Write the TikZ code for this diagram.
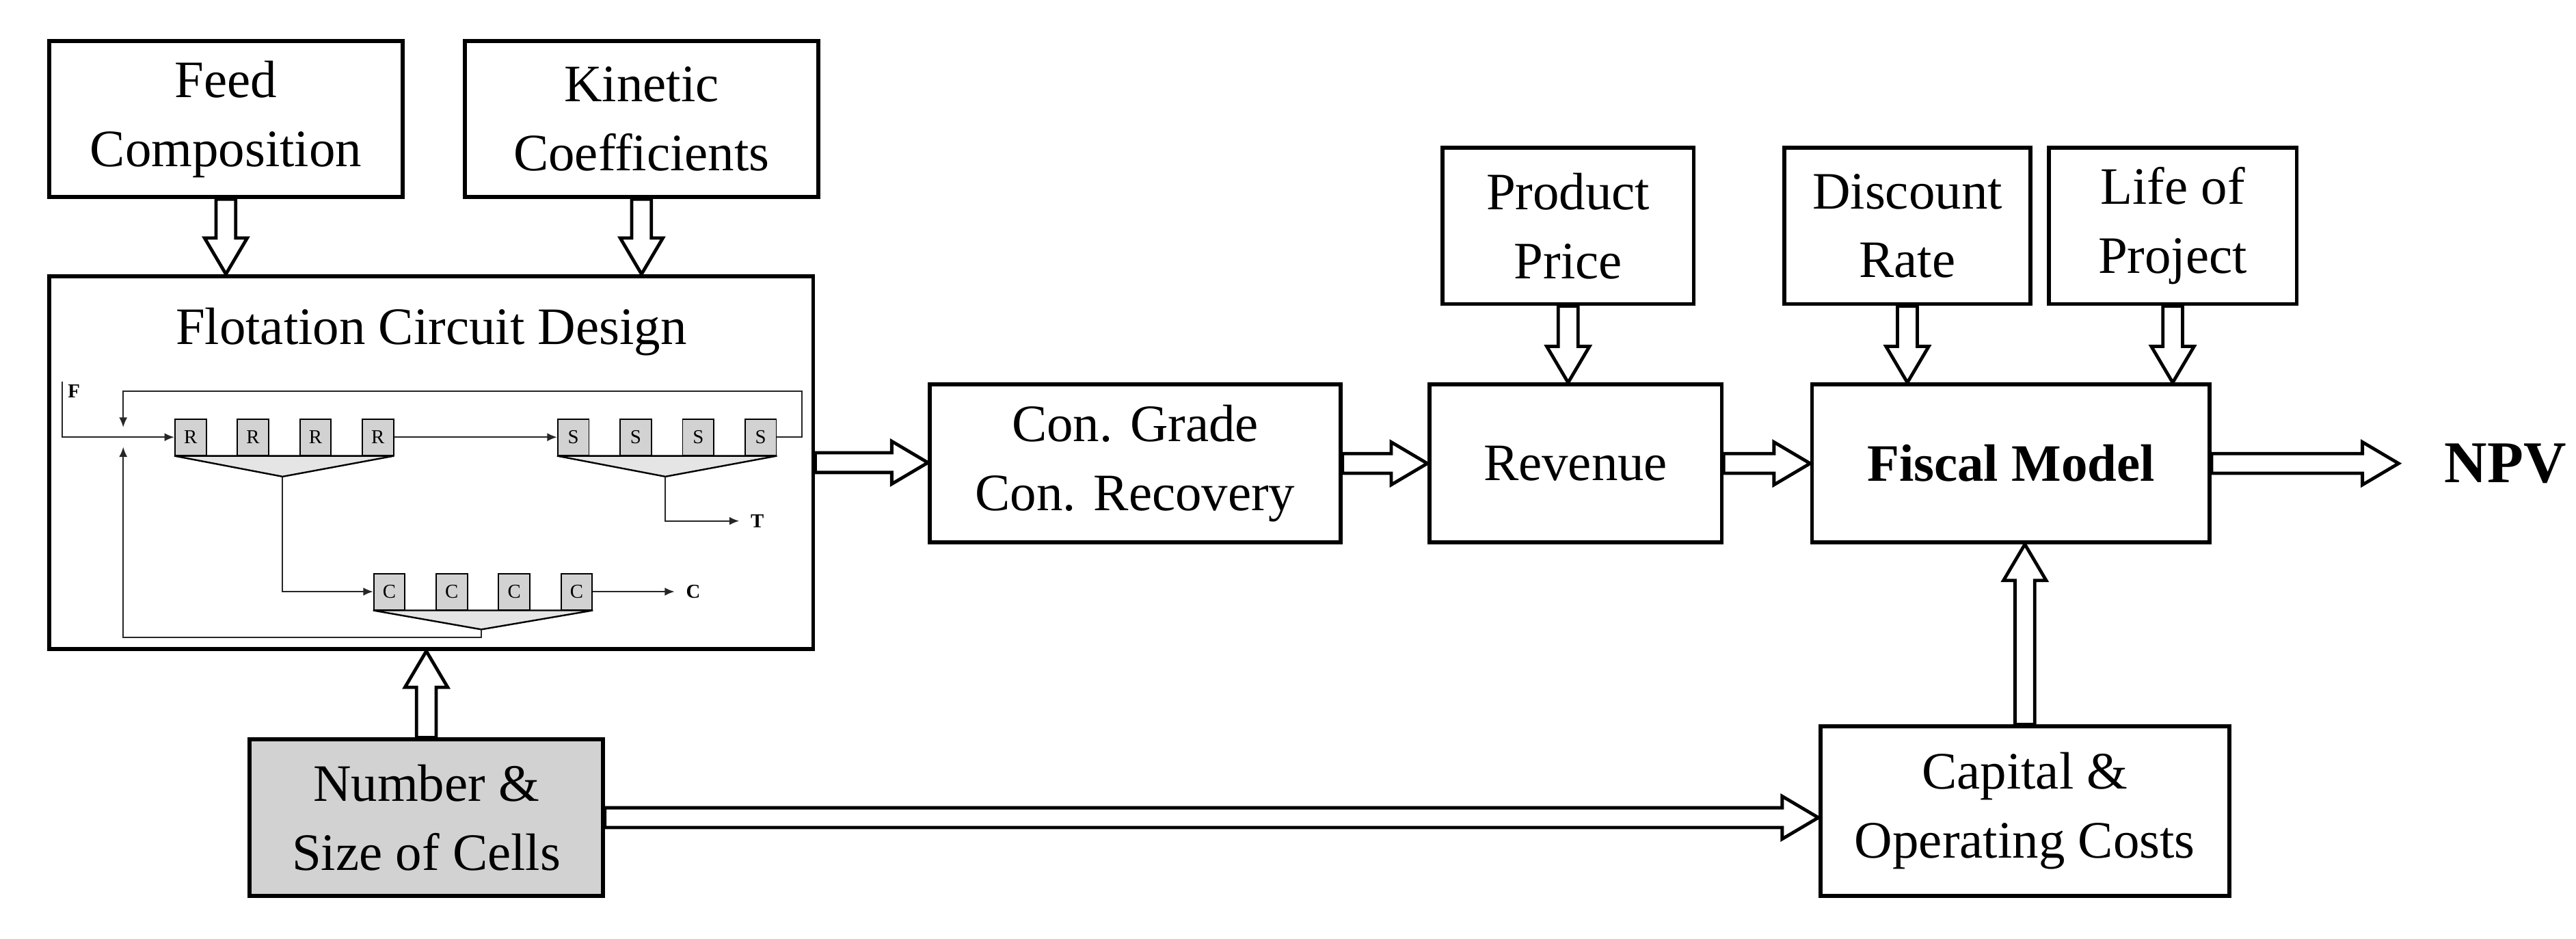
\documentclass[tikz,border=0pt]{standalone}
\usepackage{fontspec}
\setmainfont{Liberation Serif}
\usetikzlibrary{arrows.meta}
\usetikzlibrary{positioning}
\usetikzlibrary{calc}

% hollow block arrows between two points
\newcommand{\harrow}[2]{\draw[fat] let \p1=(#1), \p2=(#2) in
  (\x1,\y1+3pt) -- (\x2-11pt,\y1+3pt) -- (\x2-11pt,\y1+6.5pt) -- (\x2,\y1)
  -- (\x2-11pt,\y1-6.5pt) -- (\x2-11pt,\y1-3pt) -- (\x1,\y1-3pt) -- cycle;}
\newcommand{\varrow}[2]{\draw[fat] let \p1=(#1), \p2=(#2), \n1={\y2>\y1 ? -11pt : 11pt} in
  (\x1+3pt,\y1) -- (\x1+3pt,\y2+\n1) -- (\x1+6.5pt,\y2+\n1) -- (\x1,\y2)
  -- (\x1-6.5pt,\y2+\n1) -- (\x1-3pt,\y2+\n1) -- (\x1-3pt,\y1) -- cycle;}

\begin{document}
\begin{tikzpicture}[x=0.5pt,y=-0.5pt]
\tikzset{box/.style = {draw, line width=1.2pt, inner sep=0pt, align=center,
    font=\fontsize{16}{21}\selectfont}}
\tikzset{fat/.style = {draw, line width=1pt, fill=white}}
\tikzset{cell/.style = {draw, fill=gray!35, line width=0.4pt, minimum width=9.5pt,
    minimum height=11pt, inner sep=0pt, font=\fontsize{6}{6}\selectfont}}
\tikzset{flow/.style = {->, >={Latex[length=3pt,width=2.5pt]}, line width=0.4pt, gray!30!black}}
\tikzset{hop/.style = {draw, fill=gray!20, line width=0.5pt}}
\useasboundingbox (0,0) rectangle (1568,571);

% boxes
\node[box, minimum width=107.5pt, minimum height=47.5pt] (feed) at (137.5,72.5) {Feed\\Composition};
\node[box, minimum width=107.5pt, minimum height=47.5pt] (kin) at (390.5,72.5) {Kinetic\\Coefficients};
\node[box, minimum width=232.5pt, minimum height=113.5pt] (flot) at (262.5,281.5) {};
\node[font=\fontsize{16}{21}\selectfont] (title) at (262.5,202) {Flotation Circuit Design};
\node[box, fill=gray!35, minimum width=107.5pt, minimum height=47.5pt] (cells) at (259.5,497.5) {Number \&\\Size of Cells};
\node[box, minimum width=125pt, minimum height=48pt] (grade) at (691,282) {Con. Grade\\Con. Recovery};
\node[box, minimum width=89pt, minimum height=48pt] (rev) at (959,282) {Revenue};
\node[box, minimum width=121pt, minimum height=48pt, font=\fontsize{16}{21}\selectfont\bfseries] (fisc) at (1224,282) {Fiscal Model};
\node[box, minimum width=76.5pt, minimum height=47.5pt] (price) at (954.5,137.5) {Product\\Price};
\node[box, minimum width=75pt, minimum height=47.5pt] (disc) at (1161,137.5) {Discount\\Rate};
\node[box, minimum width=75.5pt, minimum height=47.5pt] (life) at (1322.5,137.5) {Life of\\Project};
\node[box, minimum width=124.5pt, minimum height=51.5pt] (cap) at (1232.5,493.5) {Capital \&\\Operating Costs};
\node[font=\fontsize{18}{21}\selectfont\bfseries] (npv) at (1525,282) {NPV};
\coordinate (npvin) at (1460,282);

% circuit
\foreach \n/\x/\y in {R/116/266, S/349/266, C/237/360}
  \foreach \i in {0,...,3}
    \node[cell] (\n\i) at (\x+\i*38,\y) {\n};
\draw[hop] (R0.south west) -- (R3.south east) -- (172,290) -- cycle;
\draw[hop] (S0.south west) -- (S3.south east) -- (405,290) -- cycle;
\draw[hop] (C0.south west) -- (C3.south east) -- (293,383) -- cycle;
\node[font=\fontsize{6}{6}\selectfont\bfseries] (F) at (45,238) {F};
\node[font=\fontsize{6}{6}\selectfont\bfseries] (T) at (461,317) {T};
\node[font=\fontsize{6}{6}\selectfont\bfseries] (Cout) at (422,360) {C};
\draw[flow] (38,232) |- (R0.west);
\draw[flow] (R3.east) -- (S0.west);
\draw[flow] (S3.east) -- (488,266) |- (75,238) -- (75,260);
\draw[flow] (172,290) |- (C0.west);
\draw[flow] (405,290) |- (T.west);
\draw[flow] (C3.east) -- (Cout.west);
\draw[flow] (293,383) |- (75,388) -- (75,272);

% hollow arrows
\varrow{feed.south}{flot.north -| feed.south}
\varrow{kin.south}{flot.north -| kin.south}
\varrow{cells.north}{flot.south -| cells.north}
\harrow{flot.east}{grade.west}
\harrow{grade.east}{rev.west}
\harrow{rev.east}{fisc.west}
\harrow{fisc.east}{npvin}
\varrow{price.south}{rev.north -| price.south}
\varrow{disc.south}{fisc.north -| disc.south}
\varrow{life.south}{fisc.north -| life.south}
\harrow{cells.east}{cap.west}
\varrow{cap.north}{fisc.south -| cap.north}
\end{tikzpicture}
\end{document}
